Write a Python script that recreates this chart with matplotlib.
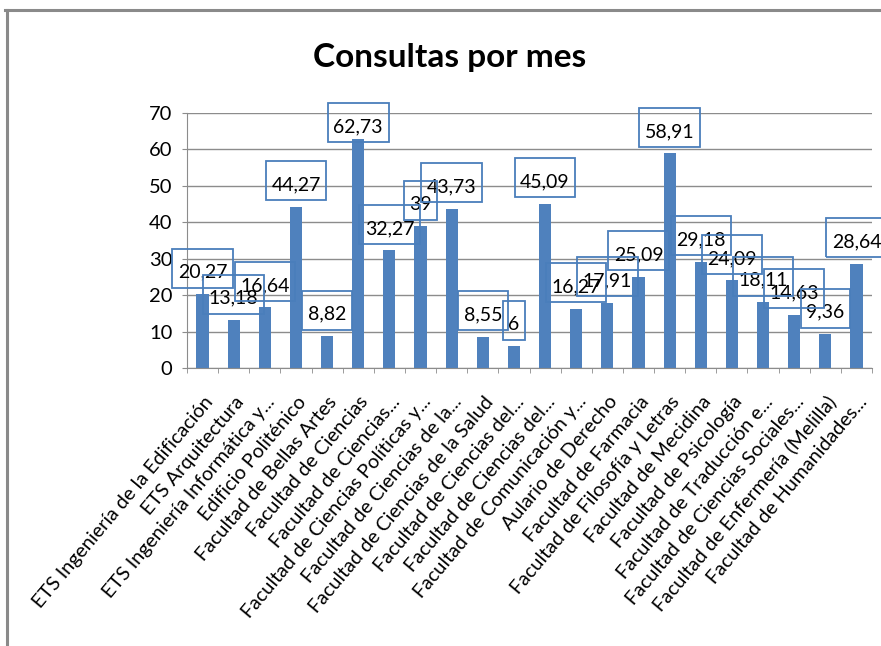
import matplotlib
matplotlib.use("Agg")
import matplotlib.pyplot as plt
from matplotlib.lines import Line2D
from matplotlib.patches import Rectangle
from matplotlib.transforms import ScaledTranslation

FACULTADES = [
    "ETS Ingeniería de la Edificación",
    "ETS Arquitectura",
    "ETS Ingeniería Informática y...",
    "Edificio Politénico",
    "Facultad de Bellas Artes",
    "Facultad de Ciencias",
    "Facultad de Ciencias...",
    "Facultad de Ciencias Políticas y...",
    "Facultad de Ciencias de la...",
    "Facultad de Ciencias de la Salud",
    "Facultad de Ciencias del...",
    "Facultad de Ciencias del...",
    "Facultad de Comunicación y...",
    "Aulario de Derecho",
    "Facultad de Farmacia",
    "Facultad de Filosofía y Letras",
    "Facultad de Mecidina",
    "Facultad de Psicología",
    "Facultad de Traducción e...",
    "Facultad de Ciencias Sociales...",
    "Facultad de Enfermería (Melilla)",
    "Facultad de Humanidades...",
]
CONSULTAS = [20.27, 13.18, 16.64, 44.27, 8.82, 62.73, 32.27, 39, 43.73, 8.55, 6,
             45.09, 16.27, 17.91, 25.09, 58.91, 29.18, 24.09, 18.11, 14.63, 9.36, 28.64]

BAR_COLOR = "#4F81BD"
BOX_COLOR = "#4A7EBB"
GRID_COLOR = "#8C8C8C"
W, H = 881, 646

plt.rcParams["font.family"] = ["Lato", "DejaVu Sans"]

fig = plt.figure(figsize=(W / 100, H / 100), dpi=100)
ax = fig.add_axes([187 / W, 1 - 368 / H, (872 - 187) / W, (368 - 113) / H])

pos = list(range(len(CONSULTAS)))
ax.bar(pos, CONSULTAS, width=0.39, color=BAR_COLOR, zorder=2)
ax.set_xlim(-0.5, len(CONSULTAS) - 0.5)
ax.set_ylim(0, 70)
ax.set_yticks(range(0, 71, 10))
ax.yaxis.grid(True, color=GRID_COLOR, lw=1.0)
ax.set_axisbelow(True)
for side in ["top", "right"]:
    ax.spines[side].set_visible(False)
for side in ["left", "bottom"]:
    ax.spines[side].set_color(GRID_COLOR)
ax.tick_params(axis="y", length=3.6, color=GRID_COLOR, labelsize=14.5, pad=7)

ax.set_xticks(pos)
ax.set_xticklabels(FACULTADES, rotation=50, ha="right", va="center",
                   rotation_mode="anchor", fontsize=14.2)
ax.tick_params(axis="x", which="major", length=0, pad=22)
shift = ScaledTranslation(7 / 100, 0, fig.dpi_scale_trans)
for lab in ax.get_xticklabels():
    lab.set_transform(lab.get_transform() + shift)
ax.set_xticks([p - 0.5 for p in pos] + [pos[-1] + 0.5], minor=True)
ax.tick_params(axis="x", which="minor", length=3.6, color=GRID_COLOR)

# data labels, boxes drawn afterwards around the text
labels = []
for p, v in zip(pos, CONSULTAS):
    txt = f"{v:g}".replace(".", ",")
    t = ax.text(p, min(v + 6.0, 66.2), txt, ha="center", va="center",
                fontsize=14, zorder=4, clip_on=False)
    labels.append(t)

fig.text(450 / W, 1 - 67 / H, "Consultas por mes", ha="center", va="baseline",
         fontsize=24, fontweight="bold")

fig.canvas.draw()
renderer = fig.canvas.get_renderer()
for t in labels:
    bb = t.get_window_extent(renderer)
    x0 = bb.x0 - 5.5
    yc = (bb.y0 + bb.y1) / 2 + 4
    fig.add_artist(Rectangle((x0 / W, (yc - 19.5) / H), (bb.width + 11) / W, 39 / H,
                             transform=fig.transFigure, fill=False,
                             ec=BOX_COLOR, lw=1.3, zorder=5))

# chart area frame (only top and left visible in the crop)
fig.add_artist(Line2D([6.5 / W, 6.5 / W], [0, 1 - 9.5 / H], transform=fig.transFigure,
                      color="#8A8A8A", lw=2.2))
fig.add_artist(Line2D([5 / W, 1], [1 - 9.5 / H, 1 - 9.5 / H], transform=fig.transFigure,
                      color="#8A8A8A", lw=2.2))

fig.savefig("out.png", dpi=100)
